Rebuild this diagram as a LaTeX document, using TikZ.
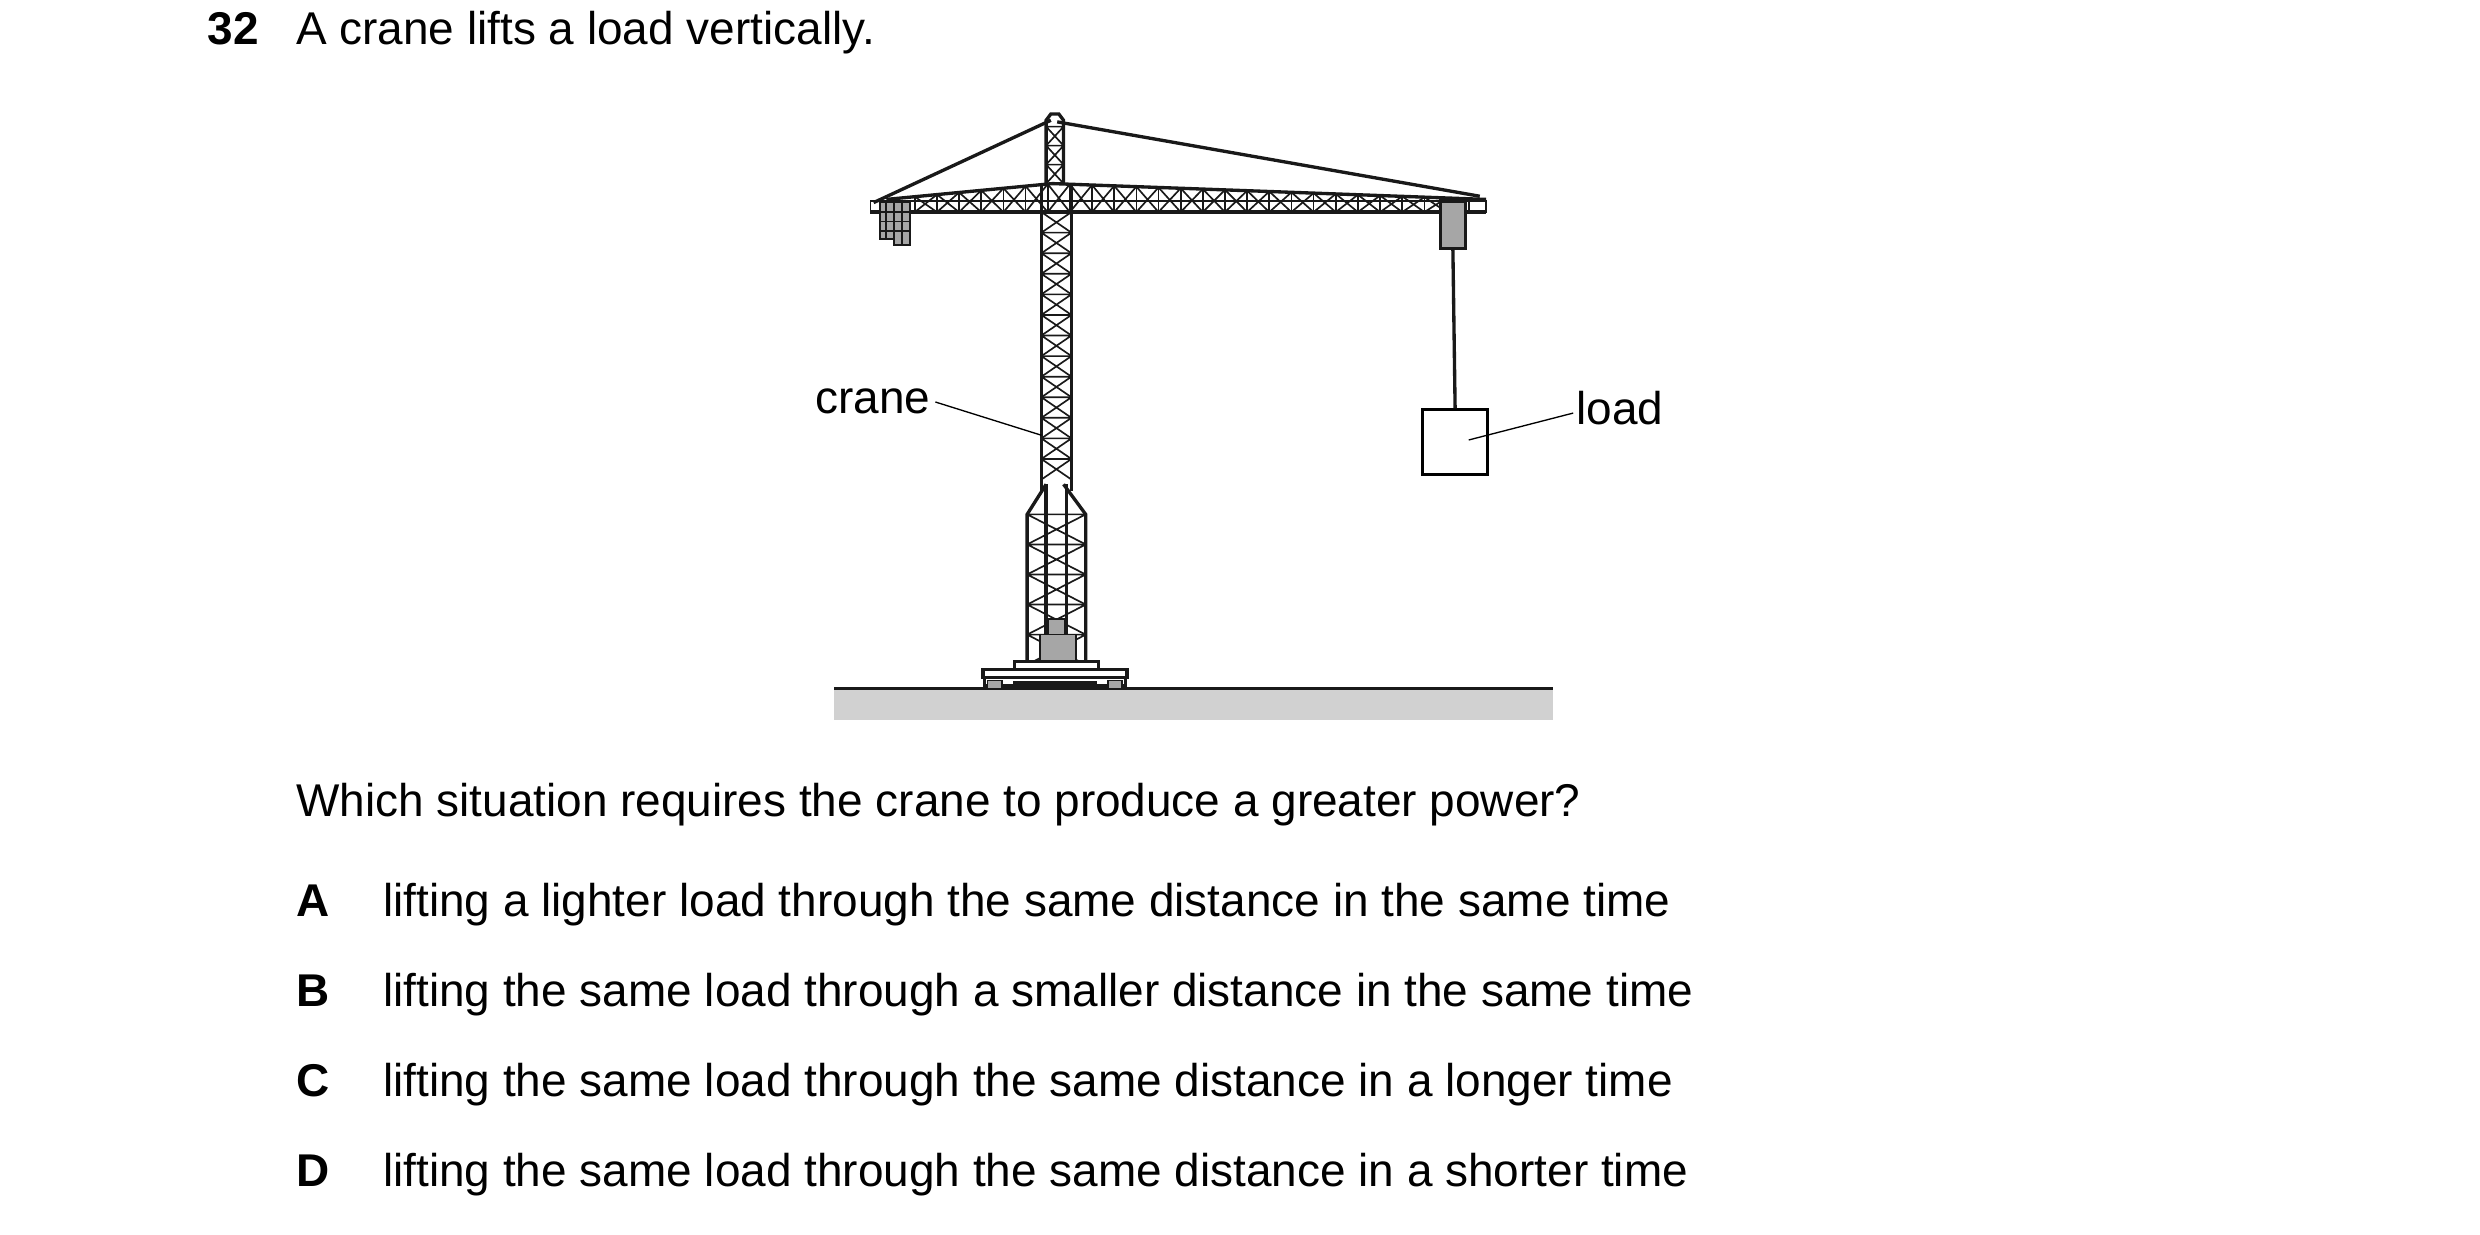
\documentclass[tikz,border=0pt]{standalone}
\usepackage{fontspec}
\setmainfont{Liberation Sans}
\begin{document}
\begin{tikzpicture}[x=0.05cm,y=-0.05cm,
  thick/.style={line width=3pt,black!90},
  thin/.style={line width=1.5pt,black!90},
  lead/.style={line width=1.2pt},
  txt/.style={anchor=base west,inner sep=0,font=\fontsize{41.3}{48}\selectfont},
  btxt/.style={txt,font=\fontsize{41.3}{48}\selectfont\bfseries}]
\useasboundingbox (0,0) rectangle (1567,780);
% ground
\fill[black!18] (527,436) rectangle (981,455);
\draw[thick] (527,435) -- (981,435);
% ties
\draw[thick] (664,76) -- (552,128);
\draw[thick] (668,77) -- (935,124);
% jib
\draw[thin] (550,127) rectangle (939,134);
\draw[thick] (550,134) -- (939,134);
\draw[thick] (560,126) -- (665,116) -- (939,126);
\foreach \x in {578,592,...,934}{
  \pgfmathsetmacro\yt{\x<665 ? 126-(\x-560)*10/105 : 116+(\x-665)*10/274}
  \draw[thin] (\x,\yt) -- (\x,134);
}
\foreach \x in {578,592,...,920}{
  \pgfmathsetmacro\ya{\x<665 ? 126-(\x-560)*10/105 : 116+(\x-665)*10/274}
  \pgfmathsetmacro\yb{(\x+14)<665 ? 126-(\x+14-560)*10/105 : 116+(\x+14-665)*10/274}
  \draw[thin] (\x,\ya) -- (\x+14,134) (\x,134) -- (\x+14,\yb);
}
% counterweights
\draw[thin,fill=black!35] (556,128) rectangle (565,151);
\draw[thin,fill=black!35] (565,128) rectangle (575,155);
\foreach \y in {134,140,146}{\draw[thin] (556,\y)--(575,\y);}
\draw[thin] (560,128)--(560,151) (570,128)--(570,155);
% upper mast
\draw[thick] (661,116) -- (661,76) -- (664,72) -- (669,72) -- (672,76) -- (672,116);
\foreach \y in {80,92,104}{\draw[thin] (661,\y) -- (672,\y+12) (672,\y) -- (661,\y+12) (661,\y)--(672,\y);}
% mast
\draw[thick] (658,116) -- (658,310) (677,116) -- (677,310);
\foreach \y in {134,147,...,297}{\draw[thin] (658,\y) -- (677,\y) (658,\y) -- (677,\y+13) (677,\y) -- (658,\y+13);}
% lower section
\draw[thick] (661,306) -- (649,325) -- (649,420) (672,306) -- (686,325) -- (686,420);
\draw[thick] (661,306) -- (661,420) (674,306) -- (674,420);
\draw[thin] (649,325) -- (686,325);
\foreach \y in {325,344,...,401}{\draw[thin] (649,\y) -- (686,\y) (649,\y) -- (686,\y+19) (686,\y) -- (649,\y+19);}
\draw[thin,fill=black!35] (657,401) rectangle (680,418);
\draw[thin,fill=black!35] (662,391) rectangle (673,401);
% base
\draw[thick,fill=white] (641,418) rectangle (694,423);
\draw[thick,fill=white] (621,423) rectangle (712,428);
\draw[thick,fill=white] (622,428) rectangle (711,433);
\fill[black!90] (640,430) rectangle (693,435);
\draw[thin,fill=black!35] (624,430) rectangle (633,435);
\draw[thin,fill=black!35] (700,430) rectangle (709,435);
% hoist and load
\draw[thick,fill=black!35] (910,127) rectangle (926,157);
\node[draw,line width=2.6pt,minimum size=41*0.05cm,inner sep=0,anchor=north west] (load) at (898,258) {};
\coordinate (hook) at (918,157);
\draw[thick] (hook) -- (load.north);
% labels
\node[txt,anchor=base east] (cl) at (588,261) {crane};
\coordinate (cm) at (658,275);
\draw[lead] (591,254) -- (cm);
\node[txt] (ll) at (996,268) {load};
\coordinate (lm) at (928,278);
\draw[lead] (994,261) -- (lm);
% text
\node[btxt] (n) at (131,28) {32};
\node[txt] (t1) at (187,28) {A crane lifts a load vertically.};
\node[txt] (q) at (187,516) {Which situation requires the crane to produce a greater power?};
\node[btxt] (a) at (187,579) {A};
\node[txt] (at) at (242,579) {lifting a lighter load through the same distance in the same time};
\node[btxt] (b) at (187,636) {B};
\node[txt] (bt) at (242,636) {lifting the same load through a smaller distance in the same time};
\node[btxt] (c) at (187,693) {C};
\node[txt] (ct) at (242,693) {lifting the same load through the same distance in a longer time};
\node[btxt] (d) at (187,750) {D};
\node[txt] (dt) at (242,750) {lifting the same load through the same distance in a shorter time};
\end{tikzpicture}
\end{document}
